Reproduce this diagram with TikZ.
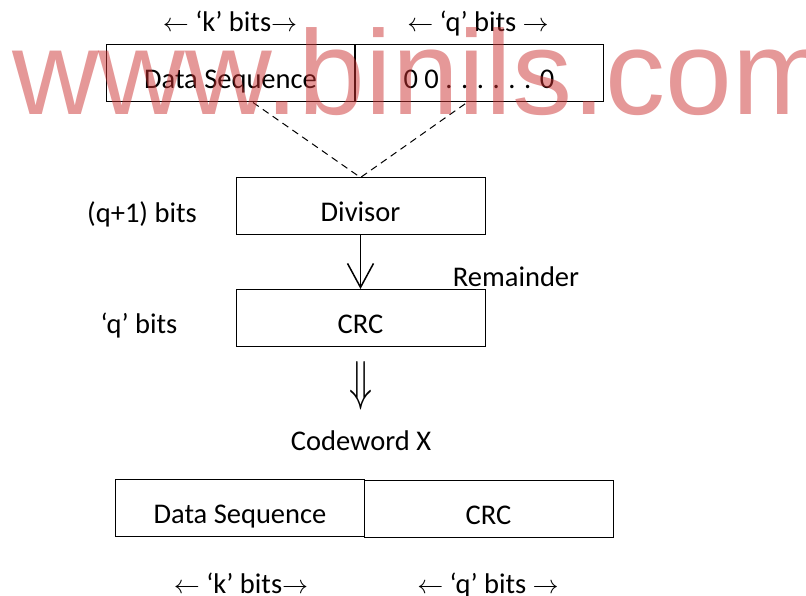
\documentclass[tikz,border=0pt]{standalone}
\usepackage{graphicx}
\usepackage{fontspec}
\setmainfont{Carlito}
\newfontfamily\wmfont{Liberation Sans}
\usetikzlibrary{arrows.meta,positioning}
\definecolor{wmred}{RGB}{203,49,49}
\newcommand{\larr}{\resizebox{26pt}{!}{$\leftarrow$}}
\newcommand{\rarr}{\resizebox{26pt}{!}{$\rightarrow$}}

\begin{document}
\begin{tikzpicture}[x=1pt,y=-1pt,
    font=\fontsize{28.5}{34}\selectfont,
    bitbox/.style={draw, line width=1pt, minimum width=249pt, minimum height=57pt,
      inner sep=0pt, text height=31pt, text depth=0pt},
    lbl/.style={anchor=base, inner sep=0pt}]
    \useasboundingbox (0,0) rectangle (806,596);

    % Data sequence with q zeros appended
    \node[bitbox] (dataTop) at (230.5,73.5) {Data Sequence};
    \node[bitbox] (zerosTop) at (479,73.5) {0 0 . . . . . . 0};
    \node[lbl] (kTop) at (230,32) {\larr{} ‘k’ bits\rarr};
    \node[lbl] (qTop) at (478,32) {\larr{} ‘q’ bits \rarr};

    % Division
    \node[bitbox] (divisor) at (360.5,206.5) {Divisor};
    \node[lbl] (divBits) at (142,223) {(q+1) bits};
    \draw[line width=1pt, dash pattern=on 7pt off 5pt]
        ([xshift=22.5pt]dataTop.south) -- (divisor.north) -- ([xshift=-12pt]zerosTop.south);

    % Remainder
    \node[bitbox] (crc) at (360.5,318) {CRC};
    \node[lbl] (crcBits) at (139,333) {‘q’ bits};
    \node[lbl] (remainder) at (516,287) {Remainder};
    \draw[line width=1.5pt, -{Straight Barb[length=24pt,width=26pt]}] (divisor) -- (crc);

    % Codeword
    \node[inner sep=0pt] (implies) at (360.5,386) {\resizebox{23pt}{38pt}{$\Downarrow$}};
    \node[lbl] (codeword) at (361,450) {Codeword X};
    \node[bitbox] (dataBot) at (240,508) {Data Sequence};
    \node[bitbox] (crcBot) at (488.5,508.5) {CRC};
    \node[lbl] (kBot) at (241,593) {\larr{} ‘k’ bits\rarr};
    \node[lbl] (qBot) at (488,593) {\larr{} ‘q’ bits \rarr};

    % Watermark
    \node[anchor=base west, inner sep=0pt, text=wmred, opacity=0.5] (watermark) at (12,115)
        {\wmfont\fontsize{120}{120}\selectfont www.binils.com};

\end{tikzpicture}
\end{document}
